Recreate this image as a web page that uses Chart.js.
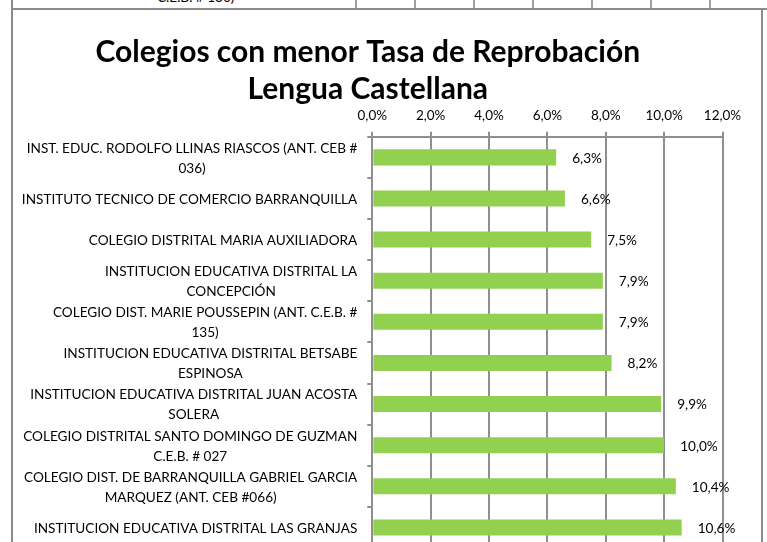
<!DOCTYPE html>
<html>
<head>
<meta charset="utf-8">
<script src="https://cdn.jsdelivr.net/npm/chart.js@4.4.1/dist/chart.umd.min.js"></script>
<style>
    html, body { margin: 0; padding: 0; background: #fff; overflow: hidden; width: 767px; height: 542px; }
    #prev {
        position: absolute; left: 11px; top: 0; width: 700px; height: 8px; overflow: hidden;
        border-left: 2px solid #8c8c8c;
    }
    #prev .grid { position: absolute; top: 0; left: 342px; width: 360px; height: 8px;
        background: repeating-linear-gradient(to right, #a0a0a0 0, #a0a0a0 2px, transparent 2px, transparent 59px); }
    #prev span { position: absolute; left: 144px; top: -11.5px; font: 13.6px Lato, sans-serif; color: #000; }
    #topline { position: absolute; left: 11px; top: 8px; width: 756px; height: 2px; background: #8c8c8c; }
    #box {
        position: absolute; left: 11px; top: 10px; width: 748px; height: 560px;
        border-left: 2px solid #8c8c8c; border-right: 2px solid #8c8c8c;
    }
    canvas { display: block; }
</style>
</head>
<body>
<div id="prev"><div class="grid"></div><span>C.E.B. # 130)</span></div>
<div id="topline"></div>
<div id="box"><canvas id="chart" width="748" height="560"></canvas></div>
<script>
// Colegios con menor tasa de reprobación - Lengua Castellana
const schools = [
    ['INST. EDUC. RODOLFO LLINAS RIASCOS (ANT. CEB #', '036)'],
    ['INSTITUTO TECNICO DE COMERCIO BARRANQUILLA'],
    ['COLEGIO DISTRITAL MARIA AUXILIADORA'],
    ['INSTITUCION EDUCATIVA DISTRITAL LA', 'CONCEPCIÓN'],
    ['COLEGIO DIST. MARIE POUSSEPIN (ANT. C.E.B. #', '135)'],
    ['INSTITUCION EDUCATIVA DISTRITAL BETSABE', 'ESPINOSA'],
    ['INSTITUCION EDUCATIVA DISTRITAL JUAN ACOSTA', 'SOLERA'],
    ['COLEGIO DISTRITAL SANTO DOMINGO DE GUZMAN', 'C.E.B. # 027'],
    ['COLEGIO DIST. DE BARRANQUILLA GABRIEL GARCIA', 'MARQUEZ (ANT. CEB #066)'],
    ['INSTITUCION EDUCATIVA DISTRITAL LAS GRANJAS']
];
const failRate = [6.3, 6.6, 7.5, 7.9, 7.9, 8.2, 9.9, 10.0, 10.4, 10.6];
const titleLines = ['Colegios con menor Tasa de Reprobación', 'Lengua Castellana'];
const axisMax = 12;
const axisStep = 2;

const GRID = '#8f8f8f';
const FONT = 'Lato';
const LABEL_SIZE = 13.6;

function pct(v) {
    return Number(v).toFixed(1).replace('.', ',') + '%';
}

// school names: wrapped lines centred inside a right-aligned block
const schoolLabels = {
    id: 'schoolLabels',
    afterDraw(chart) {
        const ctx = chart.ctx;
        const yScale = chart.scales.y;
        const right = chart.chartArea.left - 15;
        ctx.save();
        ctx.font = LABEL_SIZE + 'px ' + FONT;
        ctx.fillStyle = '#000';
        ctx.textAlign = 'center';
        ctx.textBaseline = 'middle';
        chart.data.labels.forEach((lines, i) => {
            const widest = Math.max(...lines.map(l => ctx.measureText(l).width));
            const cx = right - widest / 2;
            const cy = yScale.getPixelForValue(i) + 1;
            lines.forEach((l, j) => {
                ctx.fillText(l, cx, cy + (j - (lines.length - 1) / 2) * 20);
            });
        });
        ctx.restore();
    }
};

// value labels just past the end of each bar
const valueLabels = {
    id: 'valueLabels',
    afterDatasetsDraw(chart) {
        const ctx = chart.ctx;
        const meta = chart.getDatasetMeta(0);
        ctx.save();
        ctx.font = LABEL_SIZE + 'px ' + FONT;
        ctx.fillStyle = '#000';
        ctx.textAlign = 'left';
        ctx.textBaseline = 'middle';
        meta.data.forEach((bar, i) => {
            ctx.fillText(pct(chart.data.datasets[0].data[i]), bar.x + 16, bar.y + 1);
        });
        ctx.restore();
    }
};

new Chart(document.getElementById('chart'), {
    type: 'bar',
    data: {
        labels: schools,
        datasets: [{
            data: failRate,
            backgroundColor: '#92d050',
            borderWidth: 0,
            barPercentage: 0.39,
            categoryPercentage: 1
        }]
    },
    options: {
        indexAxis: 'y',
        responsive: false,
        animation: false,
        layout: { padding: { left: 0, right: 38.5, top: 0, bottom: 22 } },
        scales: {
            x: {
                position: 'top',
                min: 0,
                max: axisMax,
                ticks: {
                    stepSize: axisStep,
                    padding: 8,
                    color: '#000',
                    font: { family: FONT, size: 13.5 },
                    callback: v => pct(v)
                },
                grid: { color: GRID, lineWidth: 2, tickLength: 5 },
                border: { color: GRID, width: 2 },
                afterFit: scale => { scale.height = 28.8; }
            },
            y: {
                ticks: { display: false },
                grid: { color: GRID, lineWidth: 2, tickLength: 5, drawOnChartArea: false },
                border: { color: GRID, width: 2 },
                afterFit: scale => { scale.width = 359.3; }
            }
        },
        plugins: {
            legend: { display: false },
            tooltip: { enabled: false },
            title: {
                display: true,
                text: titleLines,
                color: '#000',
                font: { family: FONT, size: 30, weight: 'bold', lineHeight: '37px' },
                padding: { top: 24, bottom: 0 }
            }
        }
    },
    plugins: [schoolLabels, valueLabels]
});
</script>
</body>
</html>
